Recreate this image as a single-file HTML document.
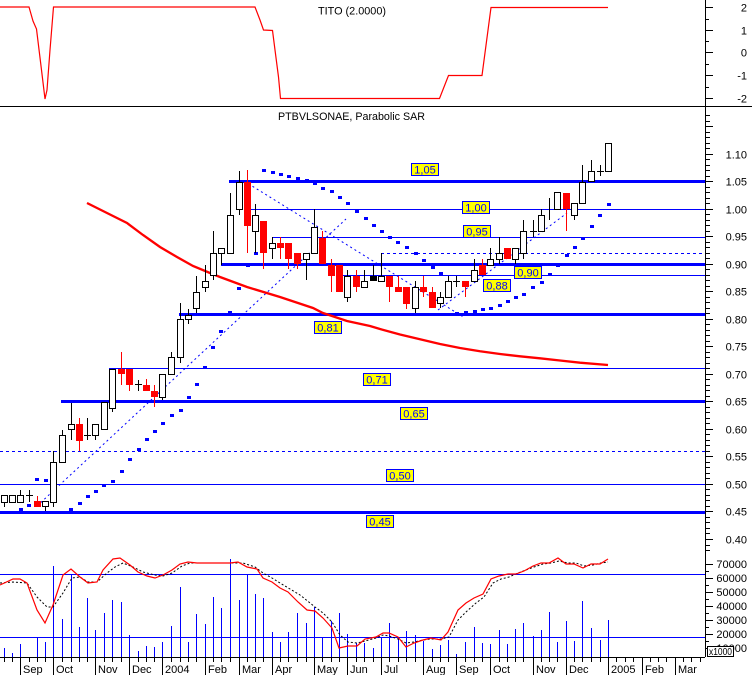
<!DOCTYPE html>
<html><head><meta charset="utf-8"><style>
html,body{margin:0;padding:0;background:#fff;}
svg{display:block;}
text{font-family:"Liberation Sans",Arial,sans-serif;}
.h{fill:#fff;stroke:#000;stroke-width:1}
.r{fill:#f00}
.k{fill:#000}
.wk{stroke:#000;stroke-width:1}
.wr{stroke:#f00;stroke-width:1}
.lb{fill:#ff0;stroke:#00f;stroke-width:1}
.lt{fill:#00f;font-size:11px;text-anchor:middle}
.ax{font-size:11px;text-anchor:end;fill:#000}
.mo{font-size:11px;fill:#000}
</style></head><body>
<svg width="752" height="675" viewBox="0 0 752 675" xmlns="http://www.w3.org/2000/svg">
<rect x="0" y="0" width="752" height="675" fill="#fff"/>

<!-- TOP PANEL -->
<polyline fill="none" stroke="#f00" stroke-width="1.2" points="0,7 29,7 33,21 36.5,29 41.5,70 45,99 47,90 50,50 53.5,7 255,7 260,20 263.5,30 272.5,30.5 275,50 278.5,77 280.5,98.5 439.5,98.5 448.5,75.5 482,75.5 491,7.5 608,7.5"/>
<text x="318" y="14.5" font-size="11" textLength="68" lengthAdjust="spacingAndGlyphs">TITO (2.0000)</text>
<g shape-rendering="crispEdges">
<path d="M705 7.5H713M705 30.5H713M705 52.5H713M705 75.5H713M705 98.5H713M705 19.5H709M705 41.5H709M705 64.5H709M705 87.5H709" stroke="#000"/>
</g>
<text class="ax" x="747" y="11.5">2</text>
<text class="ax" x="747" y="34.5">1</text>
<text class="ax" x="747" y="56.5">0</text>
<text class="ax" x="747" y="79.5">-1</text>
<text class="ax" x="747" y="102.5">-2</text>

<g shape-rendering="crispEdges">
<rect x="0" y="106" width="752" height="1" fill="#000"/>
<rect x="705" y="0" width="1" height="657" fill="#000"/>
</g>

<text x="278" y="120" font-size="11" textLength="147" lengthAdjust="spacingAndGlyphs">PTBVLSONAE, Parabolic SAR</text>

<!-- price axis ticks -->
<path shape-rendering="crispEdges" stroke="#000" d="M705 115.5H710M705 121.5H710M705 126.5H713M705 132.5H710M705 137.5H710M705 143.5H710M705 148.5H710M705 154.5H713M705 159.5H710M705 165.5H710M705 170.5H710M705 176.5H710M705 181.5H713M705 187.5H710M705 192.5H710M705 198.5H710M705 203.5H710M705 209.5H713M705 214.5H710M705 220.5H710M705 225.5H710M705 231.5H710M705 236.5H713M705 242.5H710M705 247.5H710M705 253.5H710M705 258.5H710M705 264.5H713M705 269.5H710M705 275.5H710M705 280.5H710M705 286.5H710M705 291.5H713M705 297.5H710M705 302.5H710M705 308.5H710M705 313.5H710M705 319.5H713M705 324.5H710M705 330.5H710M705 335.5H710M705 341.5H710M705 346.5H713M705 352.5H710M705 357.5H710M705 363.5H710M705 368.5H710M705 374.5H713M705 379.5H710M705 385.5H710M705 390.5H710M705 396.5H710M705 401.5H713M705 407.5H710M705 412.5H710M705 418.5H710M705 423.5H710M705 429.5H713M705 434.5H710M705 440.5H710M705 445.5H710M705 451.5H710M705 456.5H713M705 462.5H710M705 467.5H710M705 473.5H710M705 478.5H710M705 484.5H713M705 489.5H710M705 495.5H710M705 500.5H710M705 506.5H710M705 511.5H713M705 517.5H710M705 522.5H710M705 528.5H710M705 533.5H710M705 539.5H713M705 545.5H710M705 550.5H710"/>
<text class="ax" x="747" y="158.5">1.10</text>
<text class="ax" x="747" y="185.5">1.05</text>
<text class="ax" x="747" y="213.5">1.00</text>
<text class="ax" x="747" y="240.5">0.95</text>
<text class="ax" x="747" y="268.5">0.90</text>
<text class="ax" x="747" y="295.5">0.85</text>
<text class="ax" x="747" y="323.5">0.80</text>
<text class="ax" x="747" y="350.5">0.75</text>
<text class="ax" x="747" y="378.5">0.70</text>
<text class="ax" x="747" y="405.5">0.65</text>
<text class="ax" x="747" y="433.5">0.60</text>
<text class="ax" x="747" y="460.5">0.55</text>
<text class="ax" x="747" y="488.5">0.50</text>
<text class="ax" x="747" y="515.5">0.45</text>
<text class="ax" x="747" y="543.5">0.40</text>

<!-- horizontal levels -->
<g shape-rendering="crispEdges" fill="#00f">
<rect x="229" y="180" width="476" height="3"/>
<rect x="247" y="209" width="458" height="1"/>
<rect x="272" y="237" width="433" height="1"/>
<rect x="221" y="263" width="484" height="3"/>
<rect x="343" y="275" width="362" height="1"/>
<rect x="179" y="313" width="526" height="3"/>
<rect x="109" y="368" width="596" height="1"/>
<rect x="61" y="400" width="644" height="3"/>
<rect x="0" y="484" width="705" height="1"/>
<rect x="0" y="511" width="705" height="3"/>
</g>
<g shape-rendering="crispEdges" stroke="#00f" stroke-dasharray="3,3">
<line x1="381" y1="253.5" x2="705" y2="253.5"/>
<line x1="0" y1="451.5" x2="705" y2="451.5"/>
</g>
<!-- trend lines -->
<g stroke="#00f" stroke-width="1" stroke-dasharray="2,3" fill="none">
<line x1="37" y1="506" x2="346" y2="219"/>
<line x1="244" y1="181" x2="465" y2="318"/>
<line x1="438" y1="310" x2="567" y2="213"/>
</g>

<!-- moving average -->
<polyline fill="none" stroke="#f00" stroke-width="2.3" points="87,203 107,213 127,223 143,235 160,247 177,257 193,266 210,273 220,277 247,287 280,297 313,308 323,313 347,321 370,326 380,329 400,334.5 420,339.3 440,344 460,348 480,351.3 500,354 520,356.3 540,358.3 560,360.5 580,362.7 608,365"/>

<!-- SAR dots -->
<g fill="#00f" shape-rendering="crispEdges">
<rect x="19" y="508" width="4" height="3"/><rect x="27" y="504" width="4" height="3"/><rect x="35" y="478" width="4" height="3"/><rect x="44" y="479" width="4" height="3"/>
<rect x="69" y="508" width="4" height="3"/><rect x="78" y="502" width="4" height="3"/><rect x="86" y="495" width="4" height="3"/><rect x="94" y="490" width="4" height="3"/><rect x="102" y="484" width="4" height="3"/><rect x="111" y="480" width="4" height="3"/><rect x="120" y="470" width="4" height="3"/><rect x="128" y="458" width="4" height="3"/><rect x="137" y="448" width="4" height="3"/><rect x="145" y="438" width="4" height="3"/><rect x="153" y="430" width="4" height="3"/><rect x="161" y="422" width="4" height="3"/><rect x="170" y="414" width="4" height="3"/><rect x="179" y="409" width="4" height="3"/><rect x="187" y="396" width="4" height="3"/><rect x="195" y="383" width="4" height="3"/>
<rect x="203" y="366" width="4" height="3"/><rect x="211" y="346" width="4" height="3"/><rect x="219" y="330" width="4" height="3"/><rect x="228" y="311" width="4" height="3"/><rect x="237" y="287" width="4" height="3"/><rect x="246" y="264" width="4" height="3"/><rect x="254" y="252" width="4" height="3"/>
<rect x="262" y="169" width="4" height="3"/><rect x="271" y="171" width="4" height="3"/><rect x="279" y="173" width="4" height="3"/><rect x="287" y="175" width="4" height="3"/><rect x="296" y="177" width="4" height="3"/><rect x="305" y="179" width="4" height="3"/><rect x="313" y="182" width="4" height="3"/><rect x="321" y="187" width="4" height="3"/><rect x="330" y="190" width="4" height="3"/><rect x="338" y="196" width="4" height="3"/><rect x="346" y="202" width="4" height="3"/><rect x="355" y="210" width="4" height="3"/><rect x="364" y="217" width="4" height="3"/><rect x="372" y="224" width="4" height="3"/><rect x="380" y="230" width="4" height="3"/><rect x="388" y="236" width="4" height="3"/><rect x="396" y="241" width="4" height="3"/><rect x="405" y="246" width="4" height="3"/><rect x="414" y="252" width="4" height="3"/><rect x="422" y="259" width="4" height="3"/><rect x="431" y="266" width="4" height="3"/><rect x="439" y="272" width="4" height="3"/>
<rect x="455" y="312" width="4" height="3"/><rect x="464" y="311" width="4" height="3"/><rect x="473" y="310" width="4" height="3"/><rect x="481" y="308" width="4" height="3"/><rect x="489" y="307" width="4" height="3"/><rect x="498" y="304" width="4" height="3"/><rect x="506" y="300" width="4" height="3"/><rect x="514" y="296" width="4" height="3"/><rect x="522" y="293" width="4" height="3"/><rect x="531" y="286" width="4" height="3"/><rect x="540" y="281" width="4" height="3"/><rect x="548" y="273" width="4" height="3"/><rect x="556" y="264" width="4" height="3"/><rect x="565" y="254" width="4" height="3"/><rect x="573" y="246" width="4" height="3"/><rect x="581" y="237" width="4" height="3"/><rect x="590" y="225" width="4" height="3"/><rect x="598" y="214" width="4" height="3"/><rect x="607" y="203" width="4" height="3"/>
</g>

<!-- CANDLES -->
<g shape-rendering="crispEdges">
<!-- hollow -->
<line class="wk" x1="4.5" y1="495" x2="4.5" y2="507"/><rect class="h" x="1.5" y="495.5" width="6" height="7"/>
<line class="wk" x1="12.5" y1="495" x2="12.5" y2="502"/><rect class="h" x="9.5" y="495.5" width="6" height="7"/>
<line class="wk" x1="20.5" y1="490" x2="20.5" y2="502"/><rect class="h" x="17.5" y="495.5" width="6" height="7"/>
<line class="wk" x1="45.5" y1="501" x2="45.5" y2="511"/><rect class="h" x="42.5" y="501.5" width="6" height="5"/>
<line class="wk" x1="53.5" y1="451" x2="53.5" y2="507"/><rect class="h" x="50.5" y="462.5" width="6" height="40"/>
<line class="wk" x1="62.5" y1="430" x2="62.5" y2="462"/><rect class="h" x="59.5" y="435.5" width="6" height="27"/>
<line class="wk" x1="71.5" y1="403" x2="71.5" y2="440"/><rect class="h" x="68.5" y="424.5" width="6" height="5"/>
<line class="wk" x1="95.5" y1="424" x2="95.5" y2="440"/><rect class="h" x="92.5" y="424.5" width="6" height="11"/>
<line class="wk" x1="104.5" y1="402" x2="104.5" y2="429"/><rect class="h" x="101.5" y="402.5" width="6" height="27"/>
<line class="wk" x1="112.5" y1="369" x2="112.5" y2="412"/><rect class="h" x="109.5" y="369.5" width="6" height="39"/>
<line class="wk" x1="162.5" y1="374" x2="162.5" y2="400"/><rect class="h" x="159.5" y="374.5" width="6" height="23"/>
<line class="wk" x1="171.5" y1="352" x2="171.5" y2="374"/><rect class="h" x="168.5" y="357.5" width="6" height="17"/>
<line class="wk" x1="180.5" y1="303" x2="180.5" y2="363"/><rect class="h" x="177.5" y="319.5" width="6" height="38"/>
<line class="wk" x1="188.5" y1="309" x2="188.5" y2="324"/><rect class="h" x="185.5" y="315.5" width="6" height="4"/>
<line class="wk" x1="196.5" y1="276" x2="196.5" y2="313"/><rect class="h" x="193.5" y="292.5" width="6" height="16"/>
<line class="wk" x1="205.5" y1="265" x2="205.5" y2="292"/><rect class="h" x="202.5" y="281.5" width="6" height="6"/>
<line class="wk" x1="213.5" y1="231" x2="213.5" y2="280"/><rect class="h" x="210.5" y="253.5" width="6" height="22"/>
<line class="wk" x1="221.5" y1="248" x2="221.5" y2="265"/><rect class="h" x="218.5" y="248.5" width="6" height="5"/>
<line class="wk" x1="230.5" y1="193" x2="230.5" y2="253"/><rect class="h" x="227.5" y="215.5" width="6" height="38"/>
<line class="wk" x1="239.5" y1="171" x2="239.5" y2="215"/><rect class="h" x="236.5" y="182.5" width="6" height="27"/>
<line class="wk" x1="255.5" y1="204" x2="255.5" y2="253"/><rect class="h" x="252.5" y="215.5" width="6" height="16"/>
<line class="wk" x1="272.5" y1="237" x2="272.5" y2="259"/><rect class="h" x="269.5" y="243.5" width="6" height="5"/>
<line class="wk" x1="306.5" y1="253" x2="306.5" y2="280"/><rect class="h" x="303.5" y="253.5" width="6" height="6"/>
<line class="wk" x1="314.5" y1="209" x2="314.5" y2="253"/><rect class="h" x="311.5" y="227.5" width="6" height="26"/>
<line class="wk" x1="347.5" y1="270" x2="347.5" y2="302"/><rect class="h" x="344.5" y="276.5" width="6" height="21"/>
<line class="wk" x1="364.5" y1="270" x2="364.5" y2="287"/><rect class="h" x="361.5" y="281.5" width="6" height="6"/>
<line class="wk" x1="381.5" y1="253" x2="381.5" y2="281"/><rect class="h" x="378.5" y="276.5" width="6" height="5"/>
<line class="wk" x1="415.5" y1="281" x2="415.5" y2="313"/><rect class="h" x="412.5" y="287.5" width="6" height="21"/>
<line class="wk" x1="440.5" y1="292" x2="440.5" y2="308"/><rect class="h" x="437.5" y="297.5" width="6" height="6"/>
<line class="wk" x1="448.5" y1="276" x2="448.5" y2="297"/><rect class="h" x="445.5" y="281.5" width="6" height="16"/>
<line class="wk" x1="474.5" y1="259" x2="474.5" y2="281"/><rect class="h" x="471.5" y="270.5" width="6" height="11"/>
<line class="wk" x1="490.5" y1="248" x2="490.5" y2="265"/><rect class="h" x="487.5" y="259.5" width="6" height="6"/>
<line class="wk" x1="499.5" y1="237" x2="499.5" y2="264"/><rect class="h" x="496.5" y="253.5" width="6" height="6"/>
<line class="wk" x1="515.5" y1="248" x2="515.5" y2="264"/><rect class="h" x="512.5" y="248.5" width="6" height="11"/>
<line class="wk" x1="523.5" y1="220" x2="523.5" y2="259"/><rect class="h" x="520.5" y="231.5" width="6" height="22"/>
<line class="wk" x1="541.5" y1="209" x2="541.5" y2="231"/><rect class="h" x="538.5" y="215.5" width="6" height="16"/>
<line class="wk" x1="557.5" y1="192" x2="557.5" y2="209"/><rect class="h" x="554.5" y="192.5" width="6" height="17"/>
<line class="wk" x1="574.5" y1="203" x2="574.5" y2="220"/><rect class="h" x="571.5" y="203.5" width="6" height="12"/>
<line class="wk" x1="582.5" y1="165" x2="582.5" y2="203"/><rect class="h" x="579.5" y="182.5" width="6" height="21"/>
<line class="wk" x1="591.5" y1="160" x2="591.5" y2="181"/><rect class="h" x="588.5" y="171.5" width="6" height="10"/>
<line class="wk" x1="608.5" y1="143" x2="608.5" y2="171"/><rect class="h" x="605.5" y="143.5" width="6" height="28"/>
<!-- red -->
<line class="wr" x1="37.5" y1="496" x2="37.5" y2="507"/><rect class="r" x="34" y="501" width="7" height="6"/>
<line class="wr" x1="79.5" y1="418" x2="79.5" y2="451"/><rect class="r" x="76" y="424" width="7" height="17"/>
<line class="wr" x1="121.5" y1="352" x2="121.5" y2="385"/><rect class="r" x="118" y="369" width="7" height="5"/>
<line class="wr" x1="129.5" y1="369" x2="129.5" y2="391"/><rect class="r" x="126" y="369" width="7" height="16"/>
<line class="wr" x1="146.5" y1="379" x2="146.5" y2="391"/><rect class="r" x="143" y="385" width="7" height="6"/>
<line class="wr" x1="154.5" y1="385" x2="154.5" y2="407"/><rect class="r" x="151" y="391" width="7" height="6"/>
<line class="wr" x1="247.5" y1="170" x2="247.5" y2="253"/><rect class="r" x="244" y="182" width="7" height="44"/>
<line class="wr" x1="263.5" y1="221" x2="263.5" y2="269"/><rect class="r" x="260" y="221" width="7" height="32"/>
<line class="wr" x1="280.5" y1="237" x2="280.5" y2="259"/><rect class="r" x="277" y="243" width="7" height="5"/>
<line class="wr" x1="288.5" y1="243" x2="288.5" y2="269"/><rect class="r" x="285" y="243" width="7" height="16"/>
<line class="wr" x1="297.5" y1="253" x2="297.5" y2="269"/><rect class="r" x="294" y="253" width="7" height="11"/>
<line class="wr" x1="322.5" y1="231" x2="322.5" y2="264"/><rect class="r" x="319" y="238" width="7" height="26"/>
<line class="wr" x1="331.5" y1="259" x2="331.5" y2="292"/><rect class="r" x="328" y="265" width="7" height="11"/>
<line class="wr" x1="339.5" y1="265" x2="339.5" y2="292"/><rect class="r" x="336" y="265" width="7" height="27"/>
<line class="wr" x1="356.5" y1="270" x2="356.5" y2="292"/><rect class="r" x="353" y="276" width="7" height="11"/>
<line class="wr" x1="389.5" y1="276" x2="389.5" y2="302"/><rect class="r" x="386" y="276" width="7" height="11"/>
<line class="wr" x1="398.5" y1="276" x2="398.5" y2="292"/><rect class="r" x="395" y="287" width="7" height="5"/>
<line class="wr" x1="406.5" y1="287" x2="406.5" y2="309"/><rect class="r" x="403" y="287" width="7" height="17"/>
<line class="wr" x1="423.5" y1="276" x2="423.5" y2="297"/><rect class="r" x="420" y="287" width="7" height="5"/>
<line class="wr" x1="432.5" y1="287" x2="432.5" y2="308"/><rect class="r" x="429" y="292" width="7" height="16"/>
<line class="wr" x1="465.5" y1="281" x2="465.5" y2="297"/><rect class="r" x="462" y="281" width="7" height="6"/>
<line class="wr" x1="482.5" y1="259" x2="482.5" y2="275"/><rect class="r" x="479" y="265" width="7" height="10"/>
<line class="wr" x1="507.5" y1="248" x2="507.5" y2="259"/><rect class="r" x="504" y="248" width="7" height="11"/>
<line class="wr" x1="566.5" y1="193" x2="566.5" y2="231"/><rect class="r" x="563" y="193" width="7" height="16"/>
<!-- black -->
<line class="wk" x1="373.5" y1="265" x2="373.5" y2="281"/><rect class="k" x="370" y="276" width="7" height="5"/>
<!-- crosses -->
<path class="wk" fill="none" d="M29.5 490V502M26 495.5H33M87.5 418V440M84 435.5H91M138.5 380V391M135 384.5H142M456.5 276V287M453 281.5H460M533.5 220V237M530 231.5H537M600.5 165V176M597 171.5H604M549.5 198V220"/>
</g>

<!-- level labels -->
<g>
<rect class="lb" x="411.5" y="163.5" width="27" height="12"/><text class="lt" x="425" y="173.5">1,05</text>
<rect class="lb" x="462.5" y="201.5" width="27" height="12"/><text class="lt" x="476" y="211.5">1,00</text>
<rect class="lb" x="463.5" y="225.5" width="27" height="12"/><text class="lt" x="477" y="235.5">0,95</text>
<rect class="lb" x="514.5" y="266.5" width="27" height="12"/><text class="lt" x="528" y="276.5">0,90</text>
<rect class="lb" x="483.5" y="279.5" width="27" height="12"/><text class="lt" x="497" y="289.5">0,88</text>
<rect class="lb" x="314.5" y="321.5" width="27" height="12"/><text class="lt" x="328" y="331.5">0,81</text>
<rect class="lb" x="363.5" y="373.5" width="27" height="12"/><text class="lt" x="377" y="383.5">0,71</text>
<rect class="lb" x="400.5" y="407.5" width="27" height="12"/><text class="lt" x="414" y="417.5">0,65</text>
<rect class="lb" x="386.5" y="469.5" width="27" height="12"/><text class="lt" x="400" y="479.5">0,50</text>
<rect class="lb" x="366.5" y="515.5" width="27" height="12"/><text class="lt" x="380" y="525.5">0,45</text>
</g>

<!-- VOLUME PANEL -->
<path shape-rendering="crispEdges" stroke="#00f" stroke-width="1" d="M4.5 657V648M12.5 657V653M20.5 657V644M37.5 657V637M45.5 657V642M53.5 657V566M62.5 657V619M71.5 657V574M79.5 657V627M87.5 657V598M95.5 657V630M104.5 657V613M112.5 657V600M121.5 657V602M129.5 657V635M138.5 657V651M146.5 657V646M154.5 657V647M162.5 657V642M171.5 657V626M180.5 657V587M188.5 657V642M196.5 657V614M205.5 657V624M213.5 657V597M221.5 657V608M230.5 657V559M239.5 657V600M247.5 657V574M255.5 657V594M263.5 657V598M272.5 657V632M280.5 657V642M288.5 657V632M297.5 657V613M306.5 657V623M314.5 657V607M322.5 657V637M331.5 657V621M339.5 657V613M347.5 657V634M356.5 657V643M364.5 657V643M373.5 657V648M381.5 657V637M389.5 657V623M398.5 657V637M406.5 657V631M415.5 657V635M423.5 657V641M432.5 657V649M440.5 657V645M448.5 657V640M456.5 657V654M465.5 657V642M474.5 657V627M482.5 657V643M490.5 657V644M499.5 657V630M507.5 657V644M515.5 657V629M523.5 657V623M533.5 657V636M541.5 657V630M549.5 657V612M557.5 657V642M566.5 657V621M574.5 657V641M582.5 657V601M591.5 657V628M600.5 657V640M608.5 657V620"/>
<g shape-rendering="crispEdges" fill="#00f">
<rect x="0" y="574" width="705" height="1"/>
<rect x="0" y="637" width="705" height="1"/>
</g>
<polyline fill="none" stroke="#000" stroke-width="1" stroke-dasharray="2,2" points="0,583 13,582 27,583 37,597 47,607 53,607 63,593 72,578 80,577 88,582 97,582 107,573 115,567 123,563 133,567 143,572 155,575 163,576 172,573 182,566 190,563 200,563 233,563 243,563 255,567 263,573 272,578 280,583 290,589 300,595 315,607 323,613 332,622 340,635 348,642 357,643 365,641 376,638 383,635 389,636 398,639 406,643 414,642 423,640 431,639 441,639 449,637 458,620 466,612 476,603 484,597 493,583 501,579 509,577 518,573 526,570 534,567 543,564 551,563 559,561 568,563 576,563 584,566 593,565 601,563 608,562"/>
<polyline fill="none" stroke="#f00" stroke-width="1.2" points="0,585 13,579 20,579 27,583 37,610 45,623 53,605 63,575 71,569 80,577 88,583 97,582 103,570 113,559 120,558 130,565 138,572 147,576 155,578 163,575 172,570 180,564 188,562 197,563 207,563 230,563 238,562 247,567 257,569 263,578 272,582 280,588 288,592 298,602 307,610 315,611 323,618 332,628 339,648 348,646 357,646 365,639 376,637 383,633 389,633 398,637 406,647 414,643 423,640 431,638 441,640 448,632 458,610 466,603 474,598 483,594 491,579 499,576 508,574 516,574 524,571 533,566 541,563 549,563 558,558 566,564 574,564 583,568 591,564 600,564 608,559"/>

<!-- volume axis -->
<path shape-rendering="crispEdges" stroke="#000" d="M705 564.5H713M705 578.5H713M705 592.5H713M705 606.5H713M705 620.5H713M705 634.5H713M705 648.5H713M705 571.5H709M705 585.5H709M705 599.5H709M705 613.5H709M705 627.5H709M705 641.5H709"/>
<text class="ax" x="747" y="568">70000</text>
<text class="ax" x="747" y="582">60000</text>
<text class="ax" x="747" y="596">50000</text>
<text class="ax" x="747" y="610">40000</text>
<text class="ax" x="747" y="624">30000</text>
<text class="ax" x="747" y="638">20000</text>
<text class="ax" x="747" y="652">10000</text>
<rect x="707.5" y="646.5" width="26" height="10" fill="#fff" stroke="#000" shape-rendering="crispEdges"/>
<text x="709" y="655" font-size="10" textLength="23" lengthAdjust="spacingAndGlyphs">x1000</text>

<!-- X AXIS -->
<g shape-rendering="crispEdges" stroke="#000">
<line x1="0" y1="657.5" x2="705" y2="657.5"/>
<path d="M4.5 657V662M12.5 657V662M29.5 657V662M37.5 657V662M45.5 657V662M62.5 657V662M71.5 657V662M79.5 657V662M87.5 657V662M104.5 657V662M112.5 657V662M121.5 657V662M138.5 657V662M146.5 657V662M154.5 657V662M171.5 657V662M180.5 657V662M188.5 657V662M196.5 657V662M213.5 657V662M221.5 657V662M230.5 657V662M247.5 657V662M255.5 657V662M263.5 657V662M280.5 657V662M288.5 657V662M297.5 657V662M306.5 657V662M322.5 657V662M331.5 657V662M339.5 657V662M356.5 657V662M364.5 657V662M373.5 657V662M389.5 657V662M398.5 657V662M406.5 657V662M415.5 657V662M432.5 657V662M440.5 657V662M448.5 657V662M465.5 657V662M474.5 657V662M482.5 657V662M499.5 657V662M507.5 657V662M515.5 657V662M523.5 657V662M541.5 657V662M549.5 657V662M557.5 657V662M574.5 657V662M582.5 657V662M591.5 657V662M600.5 657V662M616.5 657V662M625.5 657V662M633.5 657V662M650.5 657V662M658.5 657V662M666.5 657V662M683.5 657V662M691.5 657V662M700.5 657V662"/>
<path d="M20.5 657V675M53.5 657V675M95.5 657V675M129.5 657V675M162.5 657V675M205.5 657V675M239.5 657V675M272.5 657V675M314.5 657V675M347.5 657V675M381.5 657V675M423.5 657V675M456.5 657V675M490.5 657V675M533.5 657V675M566.5 657V675M608.5 657V675M642.5 657V675M675.5 657V675"/>
</g>
<text class="mo" x="23" y="673">Sep</text>
<text class="mo" x="56" y="673">Oct</text>
<text class="mo" x="98" y="673">Nov</text>
<text class="mo" x="132" y="673">Dec</text>
<text class="mo" x="165" y="673">2004</text>
<text class="mo" x="208" y="673">Feb</text>
<text class="mo" x="242" y="673">Mar</text>
<text class="mo" x="275" y="673">Apr</text>
<text class="mo" x="317" y="673">May</text>
<text class="mo" x="350" y="673">Jun</text>
<text class="mo" x="384" y="673">Jul</text>
<text class="mo" x="426" y="673">Aug</text>
<text class="mo" x="459" y="673">Sep</text>
<text class="mo" x="493" y="673">Oct</text>
<text class="mo" x="536" y="673">Nov</text>
<text class="mo" x="569" y="673">Dec</text>
<text class="mo" x="611" y="673">2005</text>
<text class="mo" x="645" y="673">Feb</text>
<text class="mo" x="678" y="673">Mar</text>
</svg>
</body></html>
